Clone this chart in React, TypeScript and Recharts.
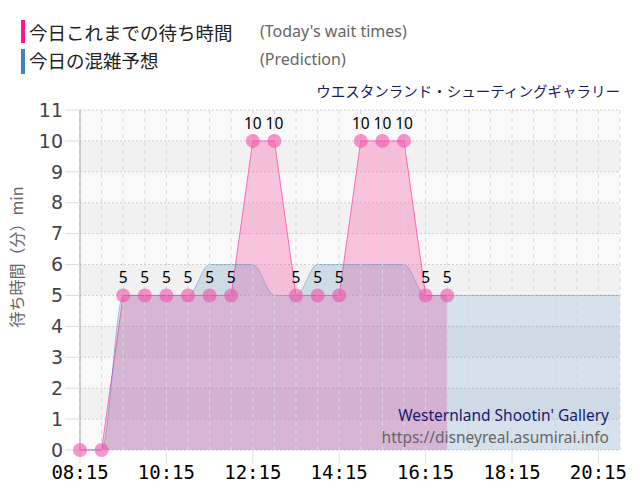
import React from 'react';
import {
  ComposedChart,
  Area,
  Line,
  XAxis,
  YAxis,
  CartesianGrid,
  ReferenceLine,
  LabelList
} from 'recharts';

// minutes since midnight, every 30 min from 08:15 to 20:45
const times = [
  495, 525, 555, 585, 615, 645, 675, 705, 735, 765, 795, 825, 855,
  885, 915, 945, 975, 1005, 1035, 1065, 1095, 1125, 1155, 1185, 1215, 1245
];
const actual = [0, 0, 5, 5, 5, 5, 5, 5, 10, 10, 5, 5, 5, 10, 10, 10, 5, 5];
const predicted = [
  0, 0, 5, 5, 5, 5, 6, 6, 6, 5, 5, 6, 6,
  6, 6, 6, 5, 5, 5, 5, 5, 5, 5, 5, 5, 5
];
const xTicks = [495, 615, 735, 855, 975, 1095, 1215];
const yTicks = [0, 1, 2, 3, 4, 5, 6, 7, 8, 9, 10, 11];

const data = times.map((t, i) => ({
  time: t,
  actual: i < actual.length ? actual[i] : null,
  predicted: predicted[i]
}));

const fmtTime = (m: number) =>
  `${String(Math.floor(m / 60)).padStart(2, '0')}:${String(m % 60).padStart(2, '0')}`;

const jp = '"Noto Sans CJK JP", "Noto Sans", sans-serif';

export default function App() {
  return (
    <div style={{ position: 'absolute', left: 0, top: 0, width: 640, height: 500, background: '#fff', fontFamily: jp }}>
      {/* legend */}
      <div style={{ position: 'absolute', left: 21, top: 20, width: 4, height: 23, background: '#ff1493' }} />
      <div style={{ position: 'absolute', left: 29, top: 18, fontSize: 18.5, color: '#222', lineHeight: '28px' }}>今日これまでの待ち時間</div>
      <div style={{ position: 'absolute', left: 260, top: 19, fontSize: 16, color: '#666', fontFamily: '"Noto Sans", sans-serif', lineHeight: '24px' }}>(Today's wait times)</div>
      <div style={{ position: 'absolute', left: 21, top: 49, width: 4, height: 25, background: '#4682b4' }} />
      <div style={{ position: 'absolute', left: 29, top: 46, fontSize: 18.5, color: '#222', lineHeight: '28px' }}>今日の混雑予想</div>
      <div style={{ position: 'absolute', left: 260, top: 47, fontSize: 16, color: '#666', fontFamily: '"Noto Sans", sans-serif', lineHeight: '24px' }}>(Prediction)</div>

      <div style={{ position: 'absolute', right: 20, top: 81, fontSize: 14.5, color: '#1a1a6e', lineHeight: '20px' }}>
        ウエスタンランド・シューティングギャラリー
      </div>

      <div style={{
        position: 'absolute', left: 16, top: 257, transform: 'translate(-50%, -50%) rotate(-90deg)',
        whiteSpace: 'nowrap', fontSize: 16, color: '#666', lineHeight: '20px'
      }}>
        待ち時間（分）min
      </div>

      <div style={{ position: 'absolute', left: 0, top: 0 }}>
        <ComposedChart width={640} height={500} data={data} margin={{ top: 110, right: 20, bottom: 20, left: 20 }}>
          <CartesianGrid
            vertical={false}
            stroke="#cfcfcf"
            strokeDasharray="2 2"
            horizontalFill={['#f9f9f9', '#f1f1f1']}
            fillOpacity={1}
          />
          {times.map(t => (
            <ReferenceLine key={t} x={t} stroke="#d8d8d8" strokeDasharray="4 4" />
          ))}
          <XAxis
            dataKey="time"
            type="number"
            domain={[495, 1245]}
            ticks={xTicks}
            tickFormatter={fmtTime}
            axisLine={false}
            tickLine={{ stroke: '#e0e0e0' }}
            tickSize={14}
            tickMargin={2}
            height={30}
            tick={{ fill: '#000', fontSize: 19, fontFamily: '"DejaVu Sans Mono", monospace' }}
          />
          <YAxis
            domain={[0, 11]}
            ticks={yTicks}
            width={60}
            axisLine={{ stroke: '#aaa' }}
            tickLine={{ stroke: '#ddd' }}
            tickSize={15}
            tickMargin={2}
            interval={0}
            tick={{ fill: '#444', fontSize: 19, fontFamily: '"DejaVu Sans", sans-serif' }}
          />
          <Area
            dataKey="actual"
            type="linear"
            stroke="#ff69b4"
            strokeWidth={1}
            fill="#ff69b4"
            fillOpacity={0.38}
            dot={false}
            activeDot={false}
            isAnimationActive={false}
          />
          <Area
            dataKey="predicted"
            type="monotone"
            stroke="#4682b4"
            strokeOpacity={0.4}
            strokeWidth={1}
            fill="#4682b4"
            fillOpacity={0.2}
            dot={false}
            activeDot={false}
            isAnimationActive={false}
          />
          <Line
            dataKey="actual"
            stroke="none"
            dot={{ r: 7, fill: '#f050a8', fillOpacity: 0.6, stroke: 'none' }}
            activeDot={false}
            isAnimationActive={false}
          >
            <LabelList
              dataKey="actual"
              position="top"
              offset={12}
              style={{ fill: '#000', fontSize: 15.5, fontFamily: '"Noto Sans", sans-serif' }}
              formatter={(v: any) => (v > 0 ? v : '')}
            />
          </Line>
        </ComposedChart>
      </div>

      <div style={{
        position: 'absolute', right: 31, top: 404, textAlign: 'right', fontFamily: '"Noto Sans", sans-serif',
        fontSize: 15.5, lineHeight: '22px'
      }}>
        <div style={{ color: '#1a1a6e' }}>Westernland Shootin' Gallery</div>
        <div style={{ color: '#666' }}>https://disneyreal.asumirai.info</div>
      </div>
    </div>
  );
}
